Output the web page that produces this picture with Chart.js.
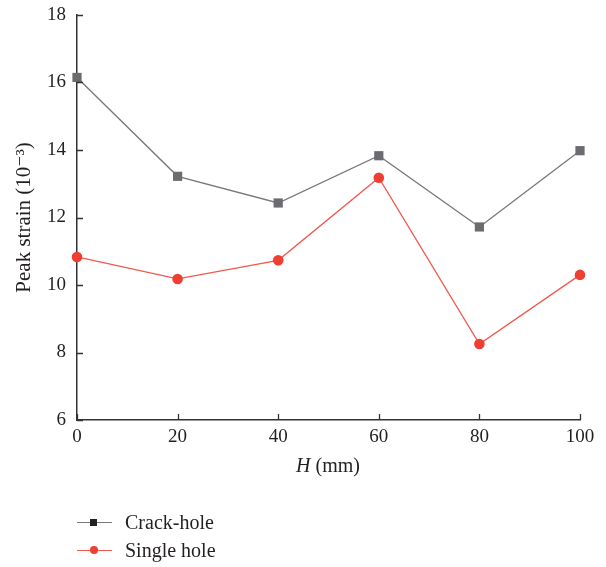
<!DOCTYPE html>
<html>
<head>
<meta charset="utf-8">
<script src="https://cdn.jsdelivr.net/npm/chart.js@4/dist/chart.umd.min.js"></script>
<style>
  html, body { margin: 0; padding: 0; background: #fff; }
  #wrap { position: relative; width: 606px; height: 567px; font-family: "Liberation Serif", "DejaVu Serif", serif; color: #231f20; }
  #c { position: absolute; left: 0; top: 0; }
  #xtitle { position: absolute; left: 228px; width: 200px; top: 452px; text-align: center; font-size: 20px; line-height: 26px; }
  .leg { position: absolute; left: 77px; height: 26px; font-size: 20px; line-height: 26px; }
  .leg .ln { position: absolute; left: 0; top: 12.5px; width: 35px; height: 1.3px; }
  .leg .mk { position: absolute; }
  .leg .tx { position: absolute; left: 48px; top: 0; white-space: nowrap; }
</style>
</head>
<body>
<div id="wrap">
  <canvas id="c" width="606" height="567"></canvas>
  <div id="xtitle"><i>H</i> (mm)</div>
  <div class="leg" style="top:509px">
    <div class="ln" style="background:#77777c"></div>
    <div class="mk" style="left:13px;top:9.5px;width:7px;height:7px;background:#222"></div>
    <div class="tx">Crack-hole</div>
  </div>
  <div class="leg" style="top:537px">
    <div class="ln" style="background:#f0584d"></div>
    <div class="mk" style="left:12.5px;top:9px;width:8px;height:8px;border-radius:50%;background:#ef3f33"></div>
    <div class="tx">Single hole</div>
  </div>
</div>
<script>
const categories = [0, 20, 40, 60, 80, 100];
const crackHole = [16.15, 13.22, 12.43, 13.83, 11.72, 13.98];
const singleHole = [10.83, 10.18, 10.73, 13.18, 8.25, 10.3];
const yTicks = [6, 8, 10, 12, 14, 16, 18];
const xTicks = [0, 20, 40, 60, 80, 100];
const seriesNames = ['Crack-hole', 'Single hole'];

const toPts = (vals) => categories.map((x, i) => ({ x: x, y: vals[i] }));

const inwardTicks = {
  id: 'inwardTicks',
  afterDraw(chart) {
    const ctx = chart.ctx;
    const xs = chart.scales.x, ys = chart.scales.y;
    const area = chart.chartArea;
    ctx.save();
    ctx.strokeStyle = '#333';
    ctx.lineWidth = 1.3;
    ctx.beginPath();
    yTicks.forEach(v => {
      const py = Math.round(ys.getPixelForValue(v)) + 0.5;
      ctx.moveTo(area.left, py);
      ctx.lineTo(area.left + 6, py);
    });
    xTicks.forEach(v => {
      const px = Math.round(xs.getPixelForValue(v)) + 0.5;
      ctx.moveTo(px, area.bottom);
      ctx.lineTo(px, area.bottom - 6);
    });
    ctx.stroke();
    ctx.restore();
  }
};

const tickFont = { family: '"Liberation Serif", "DejaVu Serif", serif', size: 19 };

new Chart(document.getElementById('c'), {
  type: 'line',
  data: {
    datasets: [
      {
        label: seriesNames[0],
        data: toPts(crackHole),
        borderColor: '#77777c',
        backgroundColor: '#6b6b70',
        pointBackgroundColor: '#6b6b70',
        pointBorderColor: '#6b6b70',
        pointStyle: 'rect',
        pointRadius: 6.5,
        pointBorderWidth: 0,
        borderWidth: 1.3,
        tension: 0,
        clip: false
      },
      {
        label: seriesNames[1],
        data: toPts(singleHole),
        borderColor: '#f0584d',
        backgroundColor: '#ef3f33',
        pointBackgroundColor: '#ef3f33',
        pointBorderColor: '#ef3f33',
        pointStyle: 'circle',
        pointRadius: 5.3,
        pointBorderWidth: 0,
        borderWidth: 1.3,
        tension: 0,
        clip: false
      }
    ]
  },
  options: {
    responsive: false,
    animation: false,
    devicePixelRatio: 1,
    layout: { padding: { top: 15, right: 26, bottom: 100, left: 0 } },
    plugins: { legend: { display: false }, tooltip: { enabled: false } },
    scales: {
      x: {
        type: 'linear',
        min: 0, max: 100,
        afterBuildTicks: (s) => { s.ticks = xTicks.map(v => ({ value: v })); },
        afterFit: (s) => { s.height = 47; s.paddingLeft = 0; s.paddingRight = 0; },
        grid: { display: true, drawOnChartArea: false, drawTicks: false },
        border: { display: true, color: '#333', width: 1.5 },
        ticks: { font: tickFont, color: '#231f20', padding: 6, maxRotation: 0 },
        title: { display: false }
      },
      y: {
        min: 6, max: 18,
        afterBuildTicks: (s) => { s.ticks = yTicks.map(v => ({ value: v })); },
        afterFit: (s) => { s.width = 77; s.paddingTop = 0; s.paddingBottom = 0; },
        grid: { display: true, drawOnChartArea: false, drawTicks: false },
        border: { display: true, color: '#333', width: 1.5 },
        ticks: { font: tickFont, color: '#231f20', padding: 11 },
        title: {
          display: true,
          text: 'Peak strain (10⁻³)',
          font: { family: '"Liberation Serif", "DejaVu Serif", serif', size: 21 },
          color: '#231f20',
          padding: { top: 12, bottom: 0 }
        }
      }
    }
  },
  plugins: [inwardTicks]
});
</script>
</body>
</html>
